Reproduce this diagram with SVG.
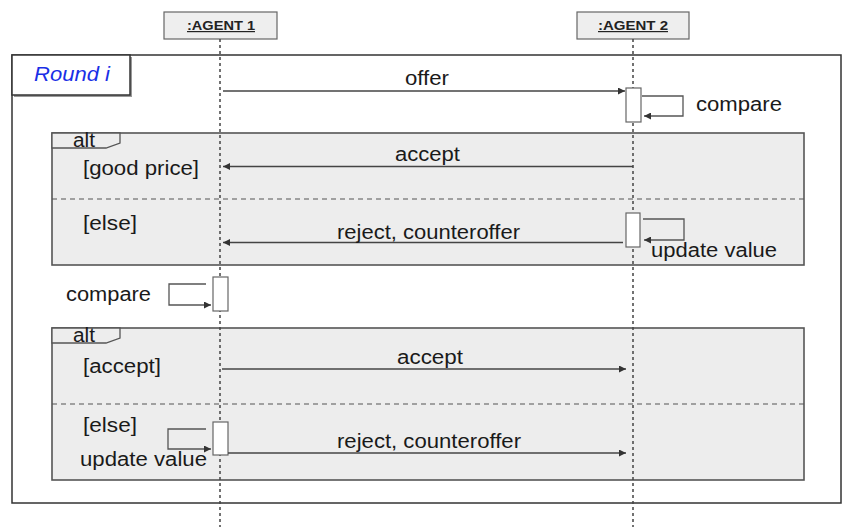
<svg xmlns="http://www.w3.org/2000/svg" width="842" height="527" viewBox="0 0 842 527">
<style>
.t{font-family:"Liberation Sans",Arial,sans-serif;font-size:19.5px;fill:#1a1a1a}
.hdr{font-family:"Liberation Sans",Arial,sans-serif;font-size:12px;font-weight:bold;fill:#222;text-decoration:underline}
.msg{stroke:#444;stroke-width:1.5;fill:none}
.self{stroke:#555;stroke-width:1.3;fill:none}
.life{stroke:#444;stroke-width:1.5;stroke-dasharray:3 3}
.act{fill:#fff;stroke:#666;stroke-width:1.2}
.frag{fill:#ededed;stroke:#555;stroke-width:1.6}
.div{stroke:#555;stroke-width:1.2;stroke-dasharray:5 4}
.tag{fill:#ededed;stroke:#555;stroke-width:1.3}
</style>
<defs>
<marker id="ah" viewBox="0 0 10 10" refX="10" refY="5" markerWidth="9" markerHeight="7" markerUnits="userSpaceOnUse" orient="auto">
<path d="M0,0 L10,5 L0,10 z" fill="#333"/>
</marker>
</defs>
<rect width="842" height="527" fill="#fff"/>

<g id="outer-frame">
<rect x="12" y="55" width="829" height="448" fill="#fff" stroke="#333" stroke-width="1.5"/>
<rect x="14" y="57" width="118" height="40" fill="#999"/>
<rect x="12" y="55" width="118" height="40" fill="#fff" stroke="#333" stroke-width="1.5"/>
<text x="34" y="81" textLength="76" lengthAdjust="spacingAndGlyphs" style="font-family:'Liberation Sans',Arial,sans-serif;font-size:19.5px;font-style:italic;fill:#1a2fe6">Round i</text>
</g>

<g id="alt1">
<rect class="frag" x="52" y="133" width="752" height="132"/>
<path class="tag" d="M52,133 H120 V143 L106,148 H52 Z"/>
<text class="t" x="73" y="146.5" textLength="22" lengthAdjust="spacingAndGlyphs">alt</text>
<line class="div" x1="52" y1="199" x2="804" y2="199"/>
<text class="t" x="83" y="175" textLength="116" lengthAdjust="spacingAndGlyphs">[good price]</text>
<text class="t" x="83" y="230" textLength="54" lengthAdjust="spacingAndGlyphs">[else]</text>
</g>

<g id="alt2">
<rect class="frag" x="52" y="328" width="752" height="152"/>
<path class="tag" d="M52,328 H120 V338 L106,343 H52 Z"/>
<text class="t" x="73" y="341.5" textLength="22" lengthAdjust="spacingAndGlyphs">alt</text>
<line class="div" x1="52" y1="404" x2="804" y2="404"/>
<text class="t" x="83" y="373" textLength="78" lengthAdjust="spacingAndGlyphs">[accept]</text>
<text class="t" x="83" y="432" textLength="54" lengthAdjust="spacingAndGlyphs">[else]</text>
</g>

<g id="agent1">
<rect x="164" y="12" width="113" height="27" fill="#eee" stroke="#666" stroke-width="1.2"/>
<text class="hdr" x="187" y="30" textLength="68" lengthAdjust="spacingAndGlyphs">:AGENT 1</text>
<line class="life" x1="220" y1="39" x2="220" y2="527"/>
</g>

<g id="agent2">
<rect x="577" y="12" width="112" height="27" fill="#eee" stroke="#666" stroke-width="1.2"/>
<text class="hdr" x="598" y="30" textLength="70" lengthAdjust="spacingAndGlyphs">:AGENT 2</text>
<line class="life" x1="633" y1="39" x2="633" y2="527"/>
</g>

<g id="activations">
<rect class="act" x="626" y="88" width="15" height="34"/>
<rect class="act" x="626" y="213" width="14" height="34"/>
<rect class="act" x="213" y="277" width="15" height="34"/>
<rect class="act" x="213" y="422" width="15" height="33"/>
</g>

<g id="connectors">
<line class="msg" x1="223" y1="91" x2="625" y2="91" marker-end="url(#ah)"/>
<polyline class="self" points="642,96 683,96 683,116 644,116" marker-end="url(#ah)"/>
<line class="msg" x1="633" y1="166.5" x2="223" y2="166.5" marker-end="url(#ah)"/>
<line class="msg" x1="623" y1="242.5" x2="223" y2="242.5" marker-end="url(#ah)"/>
<polyline class="self" points="643,219 684,219 684,240 644,240" marker-end="url(#ah)"/>
<polyline class="self" points="206,284 169,284 169,305 211,305" marker-end="url(#ah)"/>
<line class="msg" x1="222" y1="369" x2="626" y2="369" marker-end="url(#ah)"/>
<polyline class="self" points="206,429 168,429 168,449 211,449" marker-end="url(#ah)"/>
<line class="msg" x1="228" y1="453" x2="626" y2="453" marker-end="url(#ah)"/>
</g>

<g id="labels">
<text class="t" x="405" y="84.5" textLength="44" lengthAdjust="spacingAndGlyphs">offer</text>
<text class="t" x="696" y="111" textLength="86" lengthAdjust="spacingAndGlyphs">compare</text>
<text class="t" x="395" y="160.5" textLength="65" lengthAdjust="spacingAndGlyphs">accept</text>
<text class="t" x="337" y="238.5" textLength="183" lengthAdjust="spacingAndGlyphs">reject, counteroffer</text>
<text class="t" x="651" y="256.5" textLength="126" lengthAdjust="spacingAndGlyphs">update value</text>
<text class="t" x="66" y="300.5" textLength="85" lengthAdjust="spacingAndGlyphs">compare</text>
<text class="t" x="397" y="363.5" textLength="66" lengthAdjust="spacingAndGlyphs">accept</text>
<text class="t" x="80" y="465.5" textLength="127" lengthAdjust="spacingAndGlyphs">update value</text>
<text class="t" x="337" y="448" textLength="184" lengthAdjust="spacingAndGlyphs">reject, counteroffer</text>
</g>
</svg>
